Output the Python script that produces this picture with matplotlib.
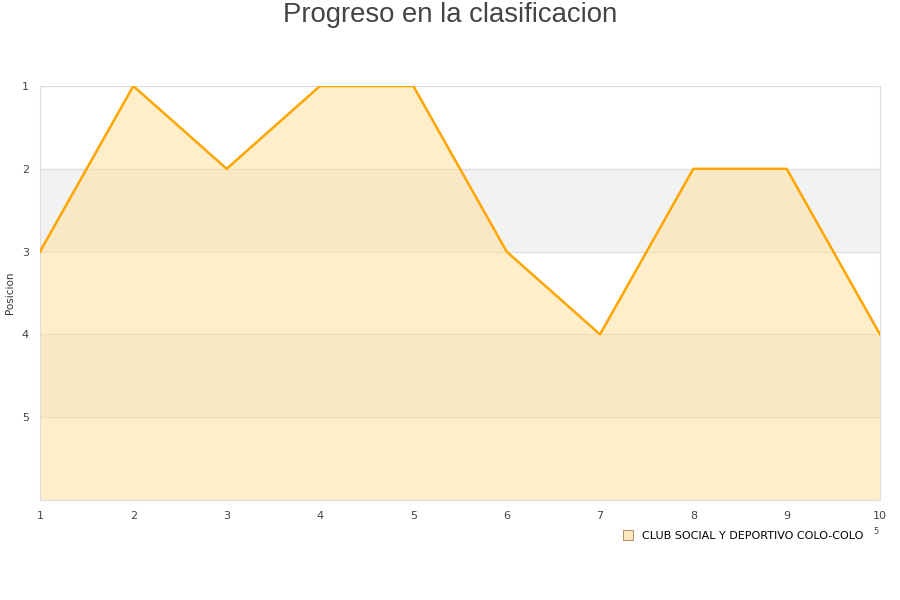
import matplotlib
matplotlib.use('Agg')
import matplotlib.pyplot as plt
from matplotlib.lines import Line2D

# jornadas y posicion
jornadas = [1, 2, 3, 4, 5, 6, 7, 8, 9, 10]
posicion = [3, 1, 2, 1, 1, 3, 4, 2, 2, 4]
y_ticks = [1, 2, 3, 4, 5]
equipo = 'CLUB SOCIAL Y DEPORTIVO COLO-COLO'

plt.rcParams['font.family'] = ['DejaVu Sans']

fig = plt.figure(figsize=(9, 6), dpi=100)
ax = fig.add_axes([40 / 900, 100 / 600, 840 / 900, 414 / 600])

# bandas alternadas
for lo in [2, 4]:
    ax.axhspan(lo, lo + 1, color='#f2f2f2', zorder=0)
for t in y_ticks:
    ax.axhline(t, color='#dddddd', lw=0.8, zorder=1)

ax.fill_between(jornadas, posicion, 6, color='#ffe0a0', alpha=0.55, lw=0, zorder=2)
ax.plot(jornadas, posicion, color='#ffa500', lw=1.8, zorder=3)

ax.set_xlim(1, 10)
ax.set_ylim(6, 1)
ax.set_xticks(jornadas)
ax.set_yticks(y_ticks)
ax.tick_params(length=0, labelsize=8, colors='#444444', pad=8)
for s in ax.spines.values():
    s.set_color('#dddddd')

fig.text(10 / 900, 1 - 293 / 600, 'Posicion', rotation=90, ha='center', va='center',
         fontsize=7.5, color='#333333')

fig.text(0.5, 1 - 15 / 600, 'Progreso en la clasificacion', ha='center', va='center',
         fontsize=19.8, color='#444444', family='Liberation Sans')

handle = Line2D([], [], marker='s', ls='', markersize=7,
                markerfacecolor='#fde7c0', markeredgecolor='#a08050', markeredgewidth=0.6)
fig.legend([handle], [equipo], loc='center', bbox_to_anchor=(740 / 900, 1 - 536 / 600),
           frameon=False, fontsize=8, handletextpad=0.3)
# resto del titulo del eje x, casi oculto
fig.text(876 / 900, 1 - 532 / 600, '5', ha='center', va='center', fontsize=6, color='#444444')

fig.savefig('out.png', dpi=100)
